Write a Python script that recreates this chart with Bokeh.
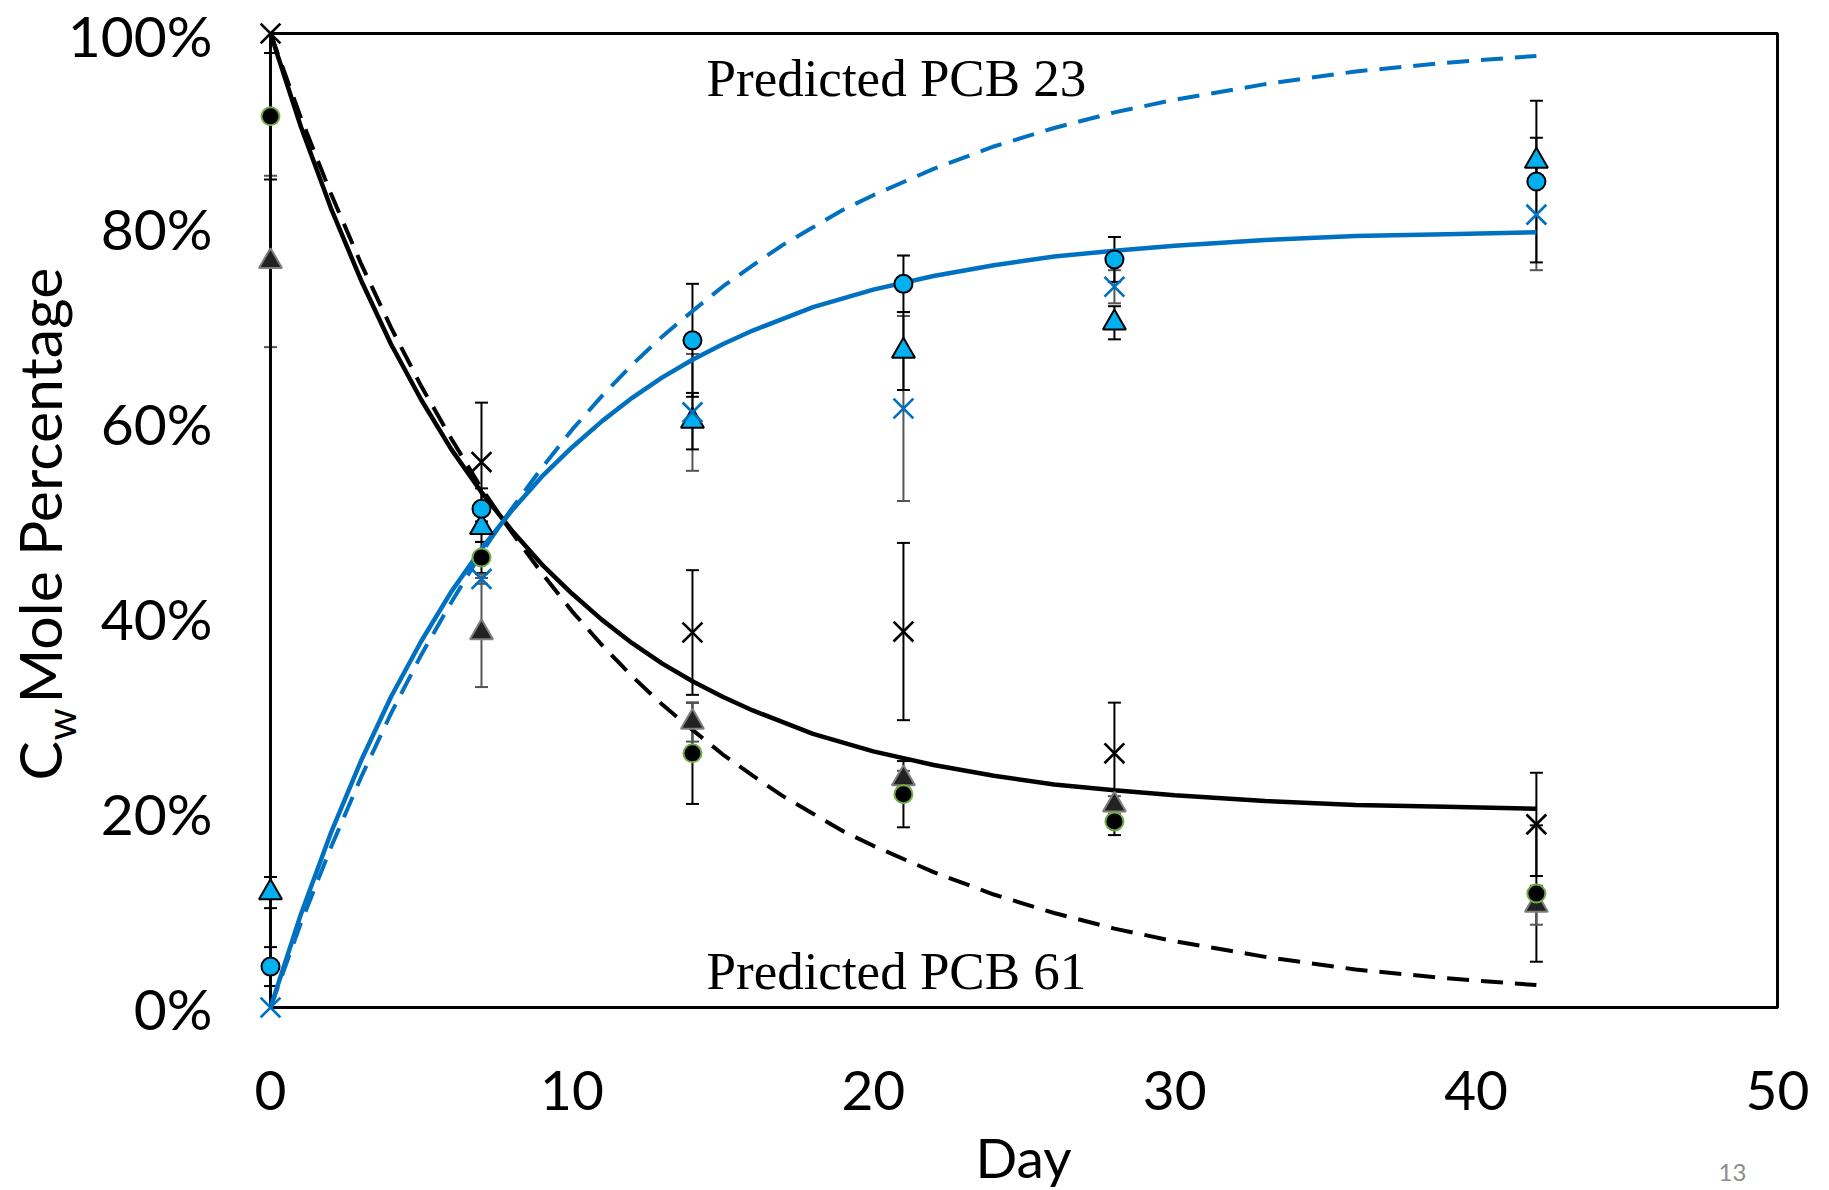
import math
from bokeh.plotting import figure
from bokeh.layouts import column, row
from bokeh.models import ColumnDataSource, Whisker, TeeHead, Label, FixedTicker, Range1d
from bokeh.core.properties import value
from bokeh.embed import file_html
from bokeh.resources import INLINE

# ---------------- data ----------------
days = [0, 7, 14, 21, 28, 42]

# PCB 61 (black markers)
pcb61_x_val = [100.0, 56.0, 38.5, 38.6, 26.1, 18.8]
pcb61_x_err = [0.0, 6.1, 6.4, 9.1, 5.2, 5.3]
pcb61_c_val = [91.5, 46.2, 26.1, 21.9, 19.1, 11.7]
pcb61_c_err = [6.5, 1.6, 5.2, 3.4, 1.4, 7.0]
pcb61_t_val = [76.6, 38.5, 29.3, 23.5, 20.8, 10.5]
pcb61_t_err = [8.8, 5.6, 2.0, 0.8, 0.9, 2.0]

# PCB 23 (blue markers)
pcb23_x_val = [0.0, 44.0, 61.1, 61.5, 74.0, 81.4]
pcb23_x_err = [0.0, 0.5, 6.0, 9.5, 1.7, 5.7]
pcb23_c_val = [4.2, 51.2, 68.5, 74.3, 76.8, 84.8]
pcb23_c_err = [2.0, 2.1, 5.8, 2.9, 2.3, 8.3]
pcb23_t_val = [11.8, 49.3, 60.2, 67.4, 70.3, 86.9]
pcb23_t_err = [1.6, 1.5, 2.9, 4.0, 1.7, 2.4]

# model curves
curve_days = [0, 1, 2, 3, 4, 5, 6, 7, 8, 9, 10, 11, 12, 13, 14, 15, 16, 17, 18, 19, 20,
              22, 24, 26, 28, 30, 33, 36, 39, 42]
fit61 = [100.0, 90.5, 82.1, 74.7, 68.1, 62.4, 57.3, 52.9, 49.0, 45.5, 42.5, 39.8, 37.4, 35.3,
         33.5, 31.9, 30.5, 29.3, 28.1, 27.2, 26.3, 24.9, 23.8, 22.9, 22.3, 21.8, 21.2, 20.8,
         20.6, 20.4]
fit23 = [0.0, 9.5, 17.9, 25.3, 31.9, 37.6, 42.7, 47.1, 51.0, 54.5, 57.5, 60.2, 62.6, 64.7,
         66.5, 68.1, 69.5, 70.7, 71.9, 72.8, 73.7, 75.1, 76.2, 77.1, 77.7, 78.2, 78.8, 79.2,
         79.4, 79.6]
pred61 = [100.0, 91.4, 83.6, 76.4, 69.8, 63.8, 58.4, 53.3, 48.8, 44.6, 40.7, 37.2, 34.0, 31.1,
          28.5, 26.0, 23.8, 21.7, 19.9, 18.1, 16.6, 13.9, 11.6, 9.7, 8.1, 6.8, 5.2, 3.9, 3.0, 2.3]
pred23 = [0.0, 8.6, 16.4, 23.6, 30.2, 36.2, 41.6, 46.7, 51.2, 55.4, 59.3, 62.8, 66.0, 68.9,
          71.5, 74.0, 76.2, 78.3, 80.1, 81.9, 83.4, 86.1, 88.4, 90.3, 91.9, 93.2, 94.8, 96.1,
          97.0, 97.7]

x_ticks = [0, 10, 20, 30, 40, 50]
y_ticks = [0, 20, 40, 60, 80, 100]
y_tick_labels = ["0%", "20%", "40%", "60%", "80%", "100%"]

BLUE_LINE = "#0070C0"
BLUE_FILL = "#00B0F0"
FONT = "Lato"

W, H = 1825, 1188

# ---------------- main figure ----------------
x0, x1 = x_ticks[0], x_ticks[-1]
y0, y1 = y_ticks[0], y_ticks[-1]
px_per_x = 1507 / (x1 - x0)
px_per_y = 974 / (y1 - y0)
PAD_L, PAD_R, PAD_T, PAD_B = 18, 9, 14, 14
F_L, F_R, F_T, F_B = 270 - PAD_L, 1777 + PAD_R, 33 - PAD_T, 1007 + PAD_B   # frame in page px

p = figure(width=W, height=H,
           x_range=Range1d(x0 - PAD_L / px_per_x, x1 + PAD_R / px_per_x),
           y_range=Range1d(y0 - PAD_B / px_per_y, y1 + PAD_T / px_per_y),
           output_backend="svg", toolbar_location=None, title=None,
           min_border_left=F_L, min_border_right=W - F_R,
           min_border_top=F_T, min_border_bottom=H - F_B)
p.outline_line_color = None
p.grid.visible = False
p.background_fill_color = "white"
p.border_fill_color = "white"

for ax in (p.xaxis[0], p.yaxis[0]):
    ax.axis_line_color = None
    ax.major_tick_line_color = None
    ax.minor_tick_line_color = None
    ax.major_label_text_font = FONT
    ax.major_label_text_color = "black"

p.xaxis.major_label_text_font_size = "55px"
p.yaxis.major_label_text_font_size = "57px"
p.xaxis.ticker = FixedTicker(ticks=x_ticks)
p.xaxis.major_label_overrides = {t: str(t) for t in x_ticks}
p.xaxis.major_label_standoff = 43
p.yaxis.ticker = FixedTicker(ticks=y_ticks)
p.yaxis.major_label_overrides = {t: l for t, l in zip(y_ticks, y_tick_labels)}
p.yaxis.major_label_standoff = 34

# plot box
p.line([x0, x1, x1, x0, x0], [y0, y0, y1, y1, y0], line_color="black", line_width=3)

# ---------------- error bars ----------------
def bars(vals, errs, color):
    xs = [d for d, e in zip(days, errs) if e > 0]
    up = [v + e for v, e in zip(vals, errs) if e > 0]
    lo = [v - e for v, e in zip(vals, errs) if e > 0]
    src = ColumnDataSource(dict(x=xs, upper=up, lower=lo))
    w = Whisker(source=src, base="x", upper="upper", lower="lower", dimension="height",
                line_color=color, line_width=2,
                upper_head=TeeHead(size=13, line_color=color, line_width=2),
                lower_head=TeeHead(size=13, line_color=color, line_width=2))
    p.add_layout(w)

bars(pcb61_x_val, pcb61_x_err, "black")
bars(pcb61_c_val, pcb61_c_err, "black")
bars(pcb61_t_val, pcb61_t_err, "#555555")
bars(pcb23_x_val, pcb23_x_err, "#555555")
bars(pcb23_c_val, pcb23_c_err, "black")
bars(pcb23_t_val, pcb23_t_err, "black")

# ---------------- curves ----------------
p.line(curve_days, pred61, line_color="black", line_width=4, line_dash="22 12")
p.line(curve_days, pred23, line_color=BLUE_LINE, line_width=4, line_dash="22 12")
p.line(curve_days, fit61, line_color="black", line_width=4.5)
p.line(curve_days, fit23, line_color=BLUE_LINE, line_width=4.5)

# ---------------- markers ----------------
p.scatter(days, pcb61_t_val, marker="triangle", size=23, fill_color="#222222",
          line_color="#7f7f7f", line_width=2)
p.scatter(days, pcb61_c_val, marker="circle", size=18, fill_color="black",
          line_color="#70AD47", line_width=2)
p.scatter(days, pcb61_x_val, marker="x", size=28, line_color="black", line_width=2.7)
p.scatter(days, pcb23_t_val, marker="triangle", size=23, fill_color=BLUE_FILL,
          line_color="black", line_width=2)
p.scatter(days, pcb23_c_val, marker="circle", size=18, fill_color=BLUE_FILL,
          line_color="black", line_width=2)
p.scatter(days, pcb23_x_val, marker="x", size=28, line_color=BLUE_LINE, line_width=2.7)

# labels inside the plot box
def px_to_data(px, py):
    return (x0 + (px - 270) / px_per_x, y0 + (1007 - py) / px_per_y)

for txt, (lx, ly) in [("Predicted PCB 23", (706, 77)), ("Predicted PCB 61", (706, 970))]:
    dx, dy = px_to_data(lx, ly)
    p.add_layout(Label(x=dx, y=dy, text=txt, text_font="Liberation Serif",
                       text_font_size="53px", text_align="left",
                       text_baseline="alphabetic", text_color="black"))

# ---------------- overlays for texts outside the plot box ----------------
def overlay(xr, yr, bl, br, bt, bb):
    o = figure(width=W, height=H, x_range=Range1d(*xr), y_range=Range1d(*yr),
               output_backend="svg", toolbar_location=None, title=None,
               x_axis_location=None, y_axis_location=None,
               min_border_left=bl, min_border_right=br, min_border_top=bt, min_border_bottom=bb)
    o.outline_line_color = None
    o.grid.visible = False
    o.background_fill_color = None
    o.border_fill_color = None
    return o

# bottom texts: same horizontal frame as the main plot, full height
ov_bottom = overlay((F_L, F_R), (0, H), F_L, W - F_R, 0, 0)
ov_bottom.styles = {"margin-top": f"-{H}px"}
# left texts: same vertical frame as the main plot, full width
ov_left = overlay((0, W), (H - F_B, H - F_T), 0, 0, F_T, H - F_B)
ov_left.styles = {"margin-left": f"-{W}px"}

def ov_text(o, txt, px, py, size, align="left", angle=0.0, color="black"):
    o.text(x=[px], y=[H - py], text=[txt], text_font=value(FONT), text_font_size=size,
           text_align=align, text_baseline="middle", angle=angle, text_color=color)

ov_text(ov_left, "C", 39, 780, "59px", angle=math.pi / 2)
ov_text(ov_left, "w", 60, 740, "41px", angle=math.pi / 2)
ov_text(ov_left, "Mole Percentage", 39, 703, "59px", angle=math.pi / 2)
ov_text(ov_bottom, "Day", 1023, 1156, "55px", align="center")
ov_text(ov_bottom, "13", 1732, 1172, "24px", align="center", color="#8c8c8c")

layout = row(column(p, ov_bottom), ov_left)

open("out.html", "w").write(file_html(layout, INLINE))
